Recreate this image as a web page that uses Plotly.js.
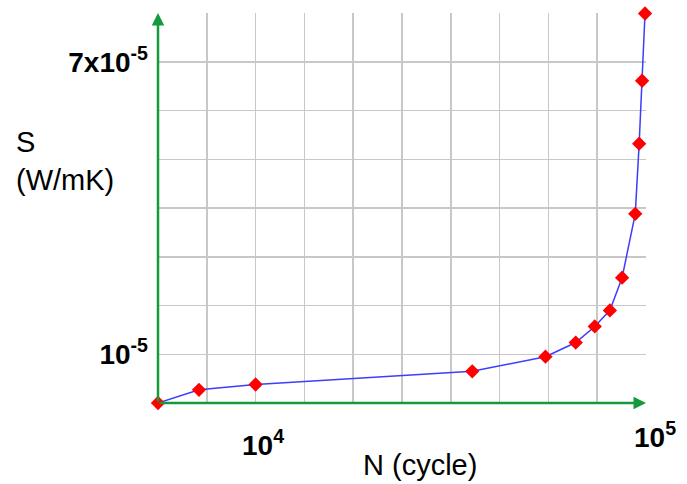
<!DOCTYPE html>
<html>
<head>
<meta charset="utf-8">
<script src="https://cdn.plot.ly/plotly-3.0.1.min.js"></script>
<style>html,body{margin:0;padding:0;background:#fff;}#chart{width:687px;height:484px;}</style>
</head>
<body>
<div id="chart"></div>
<script>
// N positions in the chart's own (schematic) axis units: 0..10 grid cells, 10^4 at 2, 10^5 at 10
const nPos = [0, 0.84, 2.0, 6.44, 7.94, 8.56, 8.95, 9.26, 9.51, 9.78, 9.86, 9.92, 9.98];
// S values (W/mK)
const sVals = [0, 0.27e-5, 0.38e-5, 0.65e-5, 0.95e-5, 1.24e-5, 1.57e-5, 1.90e-5, 2.57e-5, 3.88e-5, 5.32e-5, 6.61e-5, 7.99e-5];

const xGrid = [0, 1, 2, 3, 4, 5, 6, 7, 8, 9];
const yGrid = [0, 1e-5, 2e-5, 3e-5, 4e-5, 5e-5, 6e-5, 7e-5];
const yTickText = ['', '<b>10<sup>-5</sup></b>', '', '', '', '', '', '<b>7x10<sup>-5</sup></b>'];
const xLabels = [{x: 2, text: '<b>10<sup>4</sup></b>'}, {x: 10, text: '<b>10<sup>5</sup></b>'}];
const xTitle = 'N (cycle)';
const yTitle = 'S<br>(W/mK)';

const green = '#149a3a';
const font = 'Liberation Sans, Arial, sans-serif';

const trace = {
  x: nPos, y: sVals, type: 'scatter', mode: 'lines+markers',
  line: {color: '#3d3dff', width: 1.5},
  marker: {symbol: 'diamond', color: '#ff0000', size: 11},
  cliponaxis: false, hoverinfo: 'skip'
};

const annotations = [
  {x: 10, y: 0, ax: 0, ay: 0, xref: 'x', yref: 'y', axref: 'x', ayref: 'y', text: '', showarrow: true,
   arrowhead: 2, arrowsize: 1, arrowwidth: 2.5, arrowcolor: green, standoff: 0},
  {x: 0, y: 8e-5, ax: 0, ay: 0, xref: 'x', yref: 'y', axref: 'x', ayref: 'y', text: '', showarrow: true,
   arrowhead: 2, arrowsize: 1, arrowwidth: 2.5, arrowcolor: green, standoff: 0},
  {x: xLabels[0].x, y: 0, xref: 'x', yref: 'y', text: xLabels[0].text, showarrow: false,
   yanchor: 'top', xanchor: 'center', xshift: 7, yshift: -20, font: {family: font, size: 28, color: '#000'}},
  {x: xLabels[1].x, y: 0, xref: 'x', yref: 'y', text: xLabels[1].text, showarrow: false,
   yanchor: 'top', xanchor: 'center', xshift: 9, yshift: -12, font: {family: font, size: 28, color: '#000'}},
  {x: 0.537, y: -0.159, xref: 'paper', yref: 'paper', text: xTitle, showarrow: false,
   xanchor: 'center', yanchor: 'middle', font: {family: font, size: 29, color: '#000'}},
  {x: -0.295, y: 0.715, xref: 'paper', yref: 'paper', text: yTitle, showarrow: false, align: 'left',
   xanchor: 'left', yanchor: 'top', font: {family: font, size: 29, color: '#000'}}
];

const layout = {
  width: 687, height: 484,
  margin: {l: 158, r: 41, t: 13, b: 81, pad: 0},
  paper_bgcolor: '#fff', plot_bgcolor: '#fff',
  showlegend: false,
  xaxis: {range: [0, 10], tickmode: 'array', tickvals: xGrid, showticklabels: false,
          showgrid: true, gridcolor: '#c8c8c8', gridwidth: 1.5, zeroline: false, showline: false, ticks: '', fixedrange: true},
  yaxis: {range: [0, 8e-5], tickmode: 'array', tickvals: yGrid, ticktext: yTickText,
          showgrid: true, gridcolor: '#c8c8c8', gridwidth: 1.5, zeroline: false, showline: false, ticks: '',
          ticklabelstandoff: 9, tickfont: {family: font, size: 28, color: '#000'}, fixedrange: true},
  annotations: annotations
};

Plotly.newPlot('chart', [trace], layout, {displayModeBar: false, staticPlot: true});
</script>
</body>
</html>
